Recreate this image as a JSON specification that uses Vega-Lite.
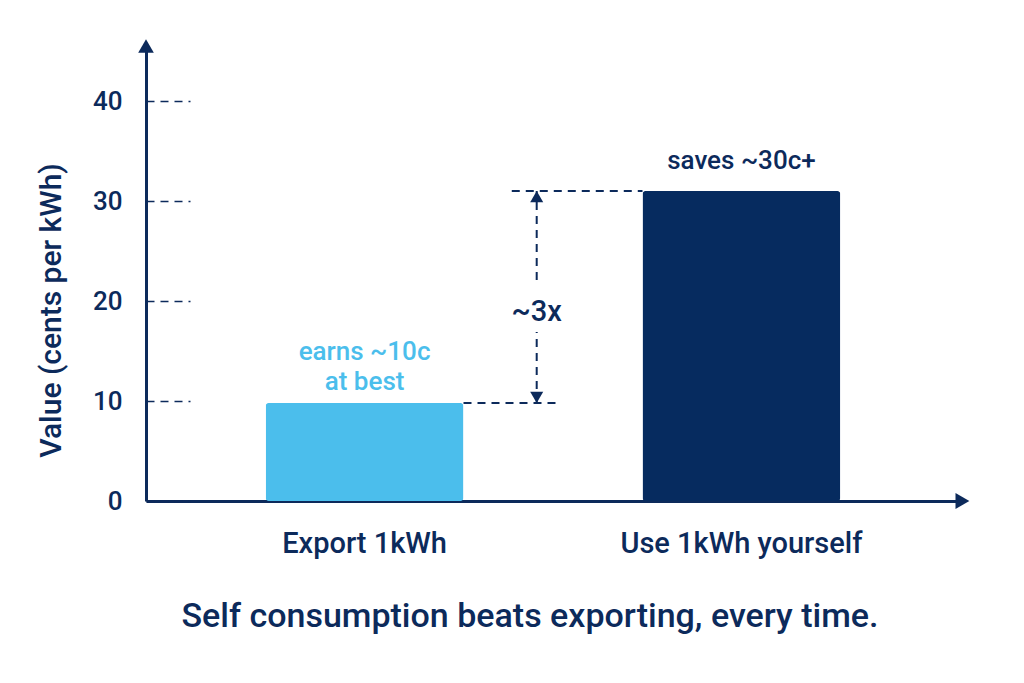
{
  "$schema": "https://vega.github.io/schema/vega-lite/v6.json",
  "width": 814,
  "height": 450,
  "autosize": "none",
  "padding": {"left": 146, "top": 51, "right": 64, "bottom": 182},
  "background": "white",
  "config": {"view": {"stroke": null}, "font": "Roboto"},
  "title": {
    "text": "Self consumption beats exporting, every time.",
    "orient": "bottom",
    "anchor": "middle",
    "dx": -23,
    "offset": 42,
    "fontSize": 34,
    "fontWeight": 500,
    "color": "#0c2a5b",
    "font": "Roboto"
  },
  "datasets": {
    "bars": [
      {"option": "Export 1kWh", "value": 9.8, "note": "earns ~10c\nat best"},
      {"option": "Use 1kWh yourself", "value": 31.0, "note": "saves ~30c+"}
    ],
    "gap": [
      {"from": "Export 1kWh", "to": "Use 1kWh yourself", "low": 9.8, "high": 31.0, "mid": 18.9, "ratio": "~3x"}
    ],
    "gapSegments": [
      {"from": "Export 1kWh", "start": 22.1, "end": 31.0},
      {"from": "Export 1kWh", "start": 9.8, "end": 16.9}
    ]
  },
  "layer": [
    {
      "data": {"name": "bars"},
      "mark": {"type": "bar", "cornerRadius": 3},
      "encoding": {
        "x": {
          "field": "option",
          "type": "nominal",
          "sort": null,
          "scale": {"paddingInner": 0.475, "paddingOuter": 0.3175},
          "axis": {
            "title": null,
            "labelAngle": 0,
            "labelLimit": 0,
            "labelFont": "Roboto",
            "labelFontSize": 29,
            "labelFontWeight": 500,
            "labelColor": "#0c2a5b",
            "labelPadding": 28,
            "ticks": false,
            "domainColor": "#0c2a5b",
            "domainWidth": 3
          }
        },
        "y": {
          "field": "value",
          "type": "quantitative",
          "scale": {"domain": [0, 45], "nice": false},
          "axis": {
            "title": "Value (cents per kWh)",
            "titleFont": "Roboto",
            "titleFontSize": 30,
            "titleFontWeight": 500,
            "titleColor": "#0c2a5b",
            "titleX": -94.5,
            "titleY": 259,
            "titleAlign": "center",
            "titleBaseline": "middle",
            "titleAngle": -90,
            "values": [0, 10, 20, 30, 40],
            "grid": false,
            "labelFont": "Roboto",
            "labelFontSize": 26,
            "labelFontWeight": 500,
            "labelColor": "#0c2a5b",
            "labelPadding": 68,
            "tickSize": -44,
            "tickDash": [8, 6],
            "tickWidth": 1.5,
            "tickColor": "#0c2a5b",
            "domainColor": "#0c2a5b",
            "domainWidth": 3
          }
        },
        "color": {
          "field": "option",
          "type": "nominal",
          "scale": {"range": ["#4bbeec", "#062b5f"]},
          "legend": null
        }
      }
    },
    {
      "data": {"name": "bars"},
      "transform": [{"filter": "datum.option === 'Export 1kWh'"}],
      "mark": {"type": "text", "lineBreak": "\n", "baseline": "middle", "align": "center", "dy": -51, "lineHeight": 30, "font": "Roboto", "fontSize": 26, "fontWeight": 500, "color": "#4bbeec"},
      "encoding": {
        "x": {"field": "option", "type": "nominal", "sort": null},
        "y": {"field": "value", "type": "quantitative"},
        "text": {"field": "note"}
      }
    },
    {
      "data": {"name": "bars"},
      "transform": [{"filter": "datum.option === 'Use 1kWh yourself'"}],
      "mark": {"type": "text", "baseline": "middle", "align": "center", "dy": -30, "font": "Roboto", "fontSize": 26, "fontWeight": 500, "color": "#0c2a5b"},
      "encoding": {
        "x": {"field": "option", "type": "nominal", "sort": null},
        "y": {"field": "value", "type": "quantitative"},
        "text": {"field": "note"}
      }
    },
    {
      "data": {"name": "gap"},
      "mark": {"type": "rule", "strokeDash": [8, 6], "strokeWidth": 2, "color": "#0c2a5b"},
      "encoding": {
        "x": {"field": "from", "type": "nominal", "bandPosition": 1},
        "x2": {"field": "from", "bandPosition": 1.488},
        "y": {"field": "low", "type": "quantitative"}
      }
    },
    {
      "data": {"name": "gap"},
      "mark": {"type": "rule", "strokeDash": [8, 6], "strokeWidth": 2, "color": "#0c2a5b"},
      "encoding": {
        "x": {"field": "from", "type": "nominal", "bandPosition": 1.244},
        "x2": {"field": "to", "bandPosition": 0},
        "y": {"field": "high", "type": "quantitative"}
      }
    },
    {
      "data": {"name": "gapSegments"},
      "mark": {"type": "rule", "strokeDash": [8, 6], "strokeWidth": 2, "color": "#0c2a5b"},
      "encoding": {
        "x": {"field": "from", "type": "nominal", "bandPosition": 1.37},
        "y": {"field": "start", "type": "quantitative"},
        "y2": {"field": "end"}
      }
    },
    {
      "data": {"name": "gap"},
      "mark": {"type": "point", "shape": "triangle-up", "filled": true, "size": 170, "yOffset": 5.6, "color": "#0c2a5b", "opacity": 1},
      "encoding": {
        "x": {"field": "from", "type": "nominal", "bandPosition": 1.37},
        "y": {"field": "high", "type": "quantitative"}
      }
    },
    {
      "data": {"name": "gap"},
      "mark": {"type": "point", "shape": "triangle-down", "filled": true, "size": 170, "yOffset": -5.6, "color": "#0c2a5b", "opacity": 1},
      "encoding": {
        "x": {"field": "from", "type": "nominal", "bandPosition": 1.37},
        "y": {"field": "low", "type": "quantitative"}
      }
    },
    {
      "data": {"name": "gap"},
      "mark": {"type": "text", "baseline": "middle", "align": "center", "font": "Roboto", "fontSize": 29, "fontWeight": 500, "color": "#0c2a5b"},
      "encoding": {
        "x": {"field": "from", "type": "nominal", "bandPosition": 1.37},
        "y": {"field": "mid", "type": "quantitative"},
        "text": {"field": "ratio"}
      }
    },
    {
      "data": {"name": "gap"},
      "mark": {"type": "point", "shape": "triangle-up", "filled": true, "size": 245, "color": "#0c2a5b", "opacity": 1},
      "encoding": {
        "x": {"field": "from", "type": "nominal", "bandPosition": -0.6047},
        "y": {"datum": 45.5, "type": "quantitative"}
      }
    },
    {
      "data": {"name": "gap"},
      "mark": {"type": "point", "shape": "triangle-right", "filled": true, "size": 256, "color": "#0c2a5b", "opacity": 1},
      "encoding": {
        "x": {"field": "to", "type": "nominal", "bandPosition": 1.617},
        "y": {"datum": 0, "type": "quantitative"}
      }
    }
  ]
}
